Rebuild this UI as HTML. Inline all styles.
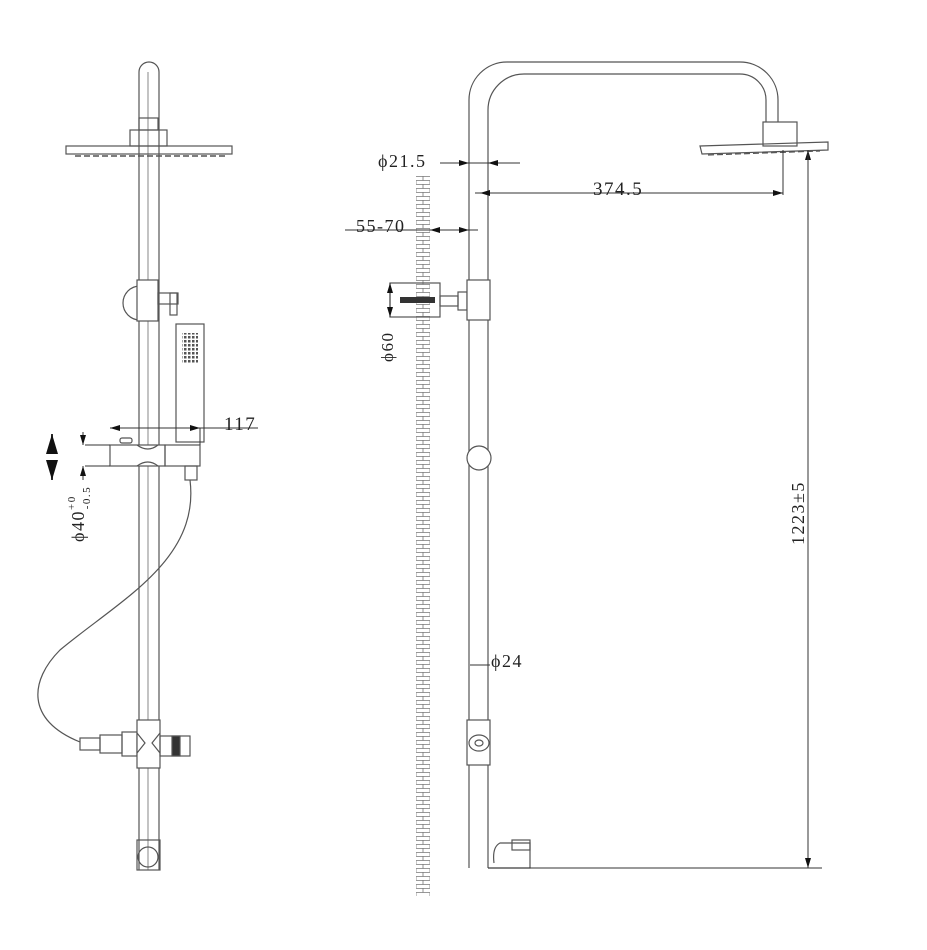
<!DOCTYPE html>
<html><head><meta charset="utf-8"><style>
html,body{margin:0;padding:0;background:#fff;}
svg{display:block;}
text{font-family:"Liberation Serif",serif;fill:#222;letter-spacing:1.5px;}
</style></head><body>
<svg width="927" height="950" viewBox="0 0 927 950" xmlns="http://www.w3.org/2000/svg">
<defs>
<marker id="a" viewBox="0 0 10 6" refX="10" refY="3" markerWidth="10" markerHeight="6" orient="auto-start-reverse"><path d="M0,0L10,3L0,6z" fill="#111"/></marker>
<pattern id="h" width="14" height="8" patternUnits="userSpaceOnUse"><path d="M0,0.5H14M0,4.5H14M3,0V4.5M10,4.5V8" stroke="#777" stroke-width="0.8" fill="none"/></pattern>
<pattern id="dots" width="4" height="4" patternUnits="userSpaceOnUse"><rect width="2.5" height="2.5" fill="#555"/></pattern>
</defs>
<g fill="none" stroke="#555" stroke-width="1.2">
<path d="M139,870V72a10,10 0 0 1 20,0V870"/>
<line x1="148" y1="72" x2="148" y2="870" stroke-width="0.7"/>
<rect x="139" y="118" width="19" height="12"/>
<rect x="130" y="130" width="37" height="16"/>
<rect x="66" y="146" width="166" height="8"/>
<line x1="75" y1="156" x2="225" y2="156" stroke-dasharray="6 3" stroke-width="1.5"/>
<circle cx="140" cy="303" r="17"/>
<rect x="137" y="280" width="21" height="41" fill="#fff"/>
<rect x="158" y="293" width="20" height="11"/>
<rect x="170" y="293" width="7" height="22"/>
<rect x="176" y="324" width="28" height="118"/>
<rect x="110" y="445" width="55" height="21" fill="#fff"/>
<path d="M137,445q11,8 21,0M137,466q11,-8 21,0"/>
<rect x="120" y="438" width="12" height="5" rx="2"/>
<rect x="165" y="445" width="35" height="21"/>
<rect x="185" y="466" width="12" height="14"/>
<path d="M190,480C200,560 120,600 60,650C30,680 25,720 80,742"/>
<rect x="80" y="738" width="20" height="12"/>
<rect x="100" y="735" width="22" height="18"/>
<rect x="122" y="732" width="15" height="24"/>
<rect x="137" y="720" width="23" height="48" fill="#fff"/>
<path d="M137,733l8,10l-8,10M160,733l-8,10l8,10"/>
<rect x="160" y="736" width="30" height="20"/>
<rect x="172" y="736" width="8" height="20" fill="#333"/>
<rect x="137" y="840" width="23" height="30"/>
<circle cx="148" cy="857" r="10"/>
<path d="M469,868V100a38,38 0 0 1 38,-38H740a38,38 0 0 1 38,38V122"/>
<path d="M488,868V110a36,36 0 0 1 36,-36H740a26,26 0 0 1 26,26V122"/>
<rect x="763" y="122" width="34" height="24"/>
<path d="M700,146L828,142V150L702,154Z"/>
<line x1="708" y1="155" x2="820" y2="151" stroke-dasharray="6 3" stroke-width="1.2"/>
<rect x="416" y="176" width="14" height="720" stroke="none" fill="url(#h)"/>
<rect x="390" y="283" width="50" height="34"/>
<rect x="440" y="296" width="18" height="10"/>
<rect x="458" y="292" width="9" height="18"/>
<rect x="467" y="280" width="23" height="40" fill="#fff"/>
<circle cx="479" cy="458" r="12" fill="#fff"/>
<rect x="467" y="720" width="23" height="45" fill="#fff"/>
<ellipse cx="479" cy="743" rx="10" ry="8"/>
<ellipse cx="479" cy="743" rx="4" ry="3"/>
<path d="M488,868H530V843H500q-8,4 -6,20"/>
<rect x="512" y="840" width="18" height="10"/>
</g>
<rect x="182" y="333" width="16" height="30" fill="url(#dots)"/>
<rect x="400" y="297" width="35" height="6" fill="#333"/>
<g stroke="#333" stroke-width="1" fill="none">
<line x1="110" y1="428" x2="258" y2="428"/>
<line x1="125" y1="428" x2="110" y2="428" marker-end="url(#a)"/>
<line x1="185" y1="428" x2="200" y2="428" marker-end="url(#a)"/>
<line x1="200" y1="428" x2="200" y2="445"/>
<line x1="85" y1="445" x2="110" y2="445"/><line x1="85" y1="466" x2="110" y2="466"/>
<line x1="83" y1="432" x2="83" y2="445" marker-end="url(#a)"/>
<line x1="83" y1="480" x2="83" y2="466" marker-end="url(#a)"/>
<line x1="52" y1="452" x2="52" y2="434" marker-end="url(#a)" stroke-width="2"/>
<line x1="52" y1="460" x2="52" y2="480" marker-end="url(#a)" stroke-width="2"/>
<line x1="440" y1="163" x2="520" y2="163"/>
<line x1="450" y1="163" x2="469" y2="163" marker-end="url(#a)"/>
<line x1="505" y1="163" x2="488" y2="163" marker-end="url(#a)"/>
<line x1="475" y1="193" x2="783" y2="193"/>
<line x1="500" y1="193" x2="480" y2="193" marker-end="url(#a)"/>
<line x1="760" y1="193" x2="783" y2="193" marker-end="url(#a)"/>
<line x1="783" y1="150" x2="783" y2="195"/>
<line x1="345" y1="230" x2="478" y2="230"/>
<line x1="445" y1="230" x2="430" y2="230" marker-end="url(#a)"/>
<line x1="455" y1="230" x2="469" y2="230" marker-end="url(#a)"/>
<line x1="390" y1="300" x2="390" y2="283" marker-end="url(#a)"/>
<line x1="390" y1="300" x2="390" y2="317" marker-end="url(#a)"/>
<line x1="470" y1="665" x2="490" y2="665"/>
<line x1="808" y1="868" x2="808" y2="150" marker-end="url(#a)"/>
<line x1="808" y1="150" x2="808" y2="868" marker-end="url(#a)"/>
<line x1="488" y1="868" x2="822" y2="868"/>
</g>
<text x="224" y="430" font-size="19">117</text>
<text transform="translate(84,542) rotate(-90)" font-size="18">ϕ40<tspan font-size="11" dy="-9">+0</tspan><tspan font-size="11" dx="-14" dy="15">-0.5</tspan></text>
<text x="378" y="167" font-size="18">ϕ21.5</text>
<text x="593" y="195" font-size="19">374.5</text>
<text x="356" y="232" font-size="18">55-70</text>
<text transform="translate(393,362) rotate(-90)" font-size="17">ϕ60</text>
<text x="491" y="667" font-size="18">ϕ24</text>
<text transform="translate(804,545) rotate(-90)" font-size="18">1223±5</text>
</svg>
</body></html>
